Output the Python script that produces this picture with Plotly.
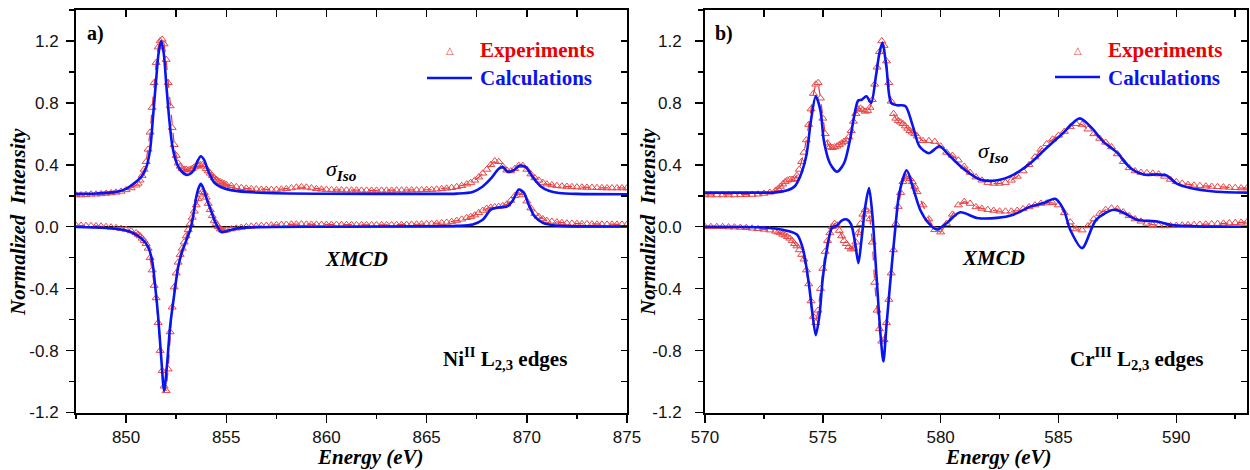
import numpy as np
import plotly.graph_objects as go


def seg(a, b, step):
    n = int(round((b - a) / step)) + 1
    return np.round(np.linspace(a, b, n), 3)


# ---------------- Panel a) Ni L2,3 edges ----------------
E_ni_exp = np.concatenate([seg(847.5, 850.5, 0.25), seg(850.6, 853.0, 0.1), seg(853.1, 855.0, 0.1),
                           seg(855.25, 867.0, 0.25), seg(867.2, 871.0, 0.2), seg(871.25, 875.0, 0.25)])

ni_iso_exp = [
    0.205, 0.205, 0.207, 0.21, 0.21, 0.212, 0.215, 0.218, 0.222, 0.228, 0.238, 0.25, 0.268,
    0.28, 0.30, 0.33, 0.37, 0.42, 0.50, 0.61, 0.77, 0.93, 1.06, 1.16, 1.20, 1.21, 1.18, 1.08, 0.93,
    0.78, 0.64, 0.53, 0.46, 0.41, 0.39, 0.375, 0.37, 0.37,
    0.365, 0.37, 0.375, 0.385, 0.39, 0.395, 0.40, 0.40, 0.39, 0.375, 0.36, 0.345, 0.33, 0.315, 0.305,
    0.295, 0.29, 0.283, 0.277, 0.272,
    0.265, 0.258, 0.252, 0.248, 0.245, 0.243, 0.241, 0.24, 0.24, 0.24, 0.242, 0.245, 0.25, 0.255, 0.257,
    0.255, 0.25, 0.245, 0.242, 0.24,
    0.238, 0.237, 0.237, 0.236, 0.236, 0.236, 0.235, 0.235, 0.235, 0.235, 0.235, 0.235, 0.235, 0.236,
    0.236, 0.236, 0.237, 0.237, 0.238, 0.239, 0.24, 0.242, 0.245, 0.248, 0.252, 0.258, 0.265, 0.275,
    0.285, 0.30, 0.32, 0.345, 0.37, 0.40, 0.425, 0.42, 0.39, 0.365, 0.36, 0.375, 0.395, 0.395, 0.37,
    0.34, 0.315, 0.30, 0.285, 0.275,
    0.27, 0.265, 0.262, 0.26, 0.258, 0.256, 0.255, 0.254, 0.253, 0.252, 0.251, 0.25, 0.25, 0.25, 0.25, 0.25,
]

ni_xmcd_exp = [
    0.008, 0.008, 0.007, 0.006, 0.005, 0.003, 0.0, -0.003, -0.007, -0.012, -0.018, -0.027, -0.04,
    -0.05, -0.06, -0.075, -0.09, -0.11, -0.14, -0.20, -0.28, -0.38, -0.46, -0.62, -0.80, -0.93, -1.03,
    -1.06, -0.92, -0.68, -0.52, -0.39, -0.30, -0.23, -0.18, -0.14, -0.10, -0.06,
    -0.02, 0.02, 0.06, 0.10, 0.14, 0.18, 0.21, 0.225, 0.22, 0.19, 0.15, 0.11, 0.07, 0.04, 0.02, 0.0,
    -0.015, -0.022, -0.025, -0.022,
    -0.015, -0.01, -0.005, 0.0, 0.003, 0.005, 0.007, 0.008, 0.01, 0.012, 0.014, 0.015, 0.016, 0.017,
    0.017, 0.016, 0.015, 0.015, 0.014, 0.014,
    0.014, 0.014, 0.013, 0.013, 0.013, 0.012, 0.012, 0.012, 0.012, 0.012, 0.012, 0.012, 0.012, 0.013,
    0.013, 0.014, 0.015, 0.016, 0.017, 0.018, 0.02, 0.022, 0.025, 0.028, 0.033, 0.04, 0.048, 0.058,
    0.065, 0.075, 0.09, 0.105, 0.118, 0.125, 0.128, 0.13, 0.135, 0.145, 0.17, 0.2, 0.22, 0.205, 0.165,
    0.12, 0.085, 0.065, 0.05, 0.04,
    0.034, 0.03, 0.026, 0.023, 0.021, 0.02, 0.019, 0.018, 0.017, 0.016, 0.016, 0.015, 0.015, 0.015, 0.015, 0.015,
]

E_ni_iso_calc = [847.5, 848.5, 849.5, 850.0, 850.5, 850.8, 851.0, 851.2, 851.35, 851.5, 851.62, 851.75,
                 851.88, 852.0, 852.15, 852.3, 852.5, 852.75, 853.05, 853.35, 853.55, 853.73, 853.9,
                 854.1, 854.4, 854.75, 855.3, 856.0, 857.0, 860.0, 865.0, 866.5, 867.3, 867.8, 868.2,
                 868.6, 868.8, 869.05, 869.35, 869.65, 869.95, 870.3, 870.7, 871.1, 871.6, 872.5, 875.0]
ni_iso_calc = [0.212, 0.215, 0.225, 0.245, 0.29, 0.33, 0.38, 0.50, 0.72, 0.95, 1.12, 1.20,
               1.12, 0.93, 0.70, 0.53, 0.42, 0.36, 0.335, 0.36, 0.42, 0.455, 0.43,
               0.36, 0.285, 0.255, 0.235, 0.225, 0.218, 0.213, 0.212, 0.214, 0.225, 0.26, 0.31,
               0.375, 0.385, 0.355, 0.365, 0.395, 0.385, 0.32, 0.26, 0.232, 0.218, 0.212, 0.21]

E_ni_xmcd_calc = [847.5, 849.0, 850.0, 850.4, 850.8, 851.1, 851.3, 851.45, 851.6, 851.75, 851.9, 852.05,
                  852.2, 852.4, 852.6, 852.8, 853.0, 853.2, 853.35, 853.5, 853.62, 853.73, 853.85, 854.05,
                  854.25, 854.45, 854.75, 855.1, 855.6, 856.5, 860.0, 865.0, 866.5, 867.3, 867.8, 868.2,
                  868.6, 869.0, 869.3, 869.6, 869.85, 870.1, 870.4, 870.8, 871.3, 872.0, 875.0]
ni_xmcd_calc = [-0.002, -0.008, -0.024, -0.045, -0.08, -0.13, -0.22, -0.38, -0.58, -0.84, -1.06, -0.88,
                -0.64, -0.44, -0.26, -0.16, -0.09, -0.02, 0.07, 0.19, 0.25, 0.277, 0.25, 0.17,
                0.10, 0.03, -0.034, -0.025, -0.01, -0.003, 0.0, 0.003, 0.006, 0.015, 0.045, 0.11,
                0.125, 0.13, 0.17, 0.24, 0.22, 0.14, 0.065, 0.025, 0.01, 0.004, 0.002]

# ---------------- Panel b) Cr L2,3 edges ----------------
E_cr_exp = np.concatenate([seg(570.0, 573.0, 0.25), seg(573.1, 579.0, 0.1), seg(579.25, 593.0, 0.25)])

cr_iso_exp = [
    0.205, 0.205, 0.205, 0.205, 0.205, 0.205, 0.206, 0.207, 0.208, 0.21, 0.215, 0.222, 0.235,
    0.245, 0.26, 0.275, 0.29, 0.30, 0.305, 0.305, 0.31, 0.33,
    0.37, 0.42, 0.48, 0.56, 0.66, 0.76, 0.86, 0.92, 0.93, 0.83,
    0.70, 0.60, 0.54, 0.515, 0.51, 0.515, 0.52, 0.53, 0.54, 0.55,
    0.56, 0.58, 0.62, 0.68, 0.73, 0.76, 0.765, 0.755, 0.745, 0.75,
    0.77, 0.82, 0.92, 1.03, 1.13, 1.20, 1.17, 1.07, 0.93, 0.81,
    0.73, 0.70, 0.685, 0.675, 0.665, 0.65, 0.635, 0.62, 0.61, 0.60,
    0.585,
    0.555, 0.555, 0.55, 0.52, 0.48, 0.46, 0.43, 0.39, 0.35, 0.32, 0.30, 0.285, 0.28, 0.28, 0.285,
    0.30, 0.325, 0.36, 0.40, 0.45, 0.50, 0.535, 0.565, 0.59, 0.615, 0.645, 0.665, 0.66, 0.63,
    0.60, 0.57, 0.545, 0.515, 0.47, 0.42, 0.38, 0.36, 0.35, 0.348, 0.345, 0.34, 0.325, 0.305,
    0.29, 0.28, 0.272, 0.268, 0.265, 0.262, 0.26, 0.258, 0.256, 0.254, 0.252, 0.25, 0.25,
]

cr_xmcd_exp = [
    0.0, 0.0, 0.0, 0.0, -0.002, -0.003, -0.005, -0.007, -0.01, -0.013, -0.017, -0.022, -0.03,
    -0.035, -0.04, -0.05, -0.055, -0.065, -0.075, -0.09, -0.11, -0.125,
    -0.15, -0.18, -0.21, -0.28, -0.37, -0.48, -0.58, -0.62, -0.54, -0.40,
    -0.27, -0.16, -0.09, -0.04, 0.0, 0.02, 0.01, -0.025, -0.06, -0.09,
    -0.11, -0.13, -0.145, -0.14, -0.10, -0.04, 0.02, 0.08, 0.11, 0.10,
    0.05, -0.10, -0.36, -0.54, -0.66, -0.74, -0.73, -0.62, -0.47, -0.30,
    -0.15, 0.02, 0.13, 0.22, 0.29, 0.32, 0.325, 0.31, 0.29, 0.26,
    0.225,
    0.14, 0.05, -0.02, -0.035, 0.02, 0.08, 0.14, 0.162, 0.15, 0.128, 0.118, 0.11, 0.105, 0.10, 0.10,
    0.10, 0.105, 0.115, 0.128, 0.14, 0.15, 0.153, 0.155, 0.14, 0.09, 0.03, -0.015, -0.022, 0.005,
    0.05, 0.085, 0.11, 0.12, 0.115, 0.095, 0.07, 0.05, 0.035, 0.022, 0.012, 0.006, 0.005, 0.006,
    0.008, 0.01, 0.012, 0.013, 0.015, 0.016, 0.018, 0.02, 0.022, 0.024, 0.026, 0.028, 0.03,
]

E_cr_iso_calc = [570.0, 572.0, 573.0, 573.5, 573.8, 574.05, 574.3, 574.5, 574.7, 574.9, 575.05, 575.3,
                 575.6, 575.9, 576.15, 576.35, 576.5, 576.65, 576.85, 577.05, 577.25, 577.4, 577.53,
                 577.7, 577.9, 578.15, 578.5, 578.8, 579.1, 579.5, 579.95, 580.4, 581.0, 581.7, 582.4,
                 583.1, 583.8, 584.5, 585.2, 585.9, 586.4, 586.9, 587.5, 588.05, 588.6, 589.2, 589.6,
                 590.0, 590.6, 591.6, 593.0]
cr_iso_calc = [0.22, 0.22, 0.222, 0.235, 0.26, 0.33, 0.46, 0.69, 0.843, 0.75, 0.55, 0.41,
               0.355, 0.41, 0.56, 0.73, 0.815, 0.82, 0.843, 0.80, 0.97, 1.12, 1.19,
               1.03, 0.80, 0.785, 0.78, 0.66, 0.52, 0.475, 0.52, 0.455, 0.37, 0.304, 0.30,
               0.337, 0.41, 0.51, 0.606, 0.70, 0.64, 0.55, 0.477, 0.38, 0.337, 0.337, 0.33,
               0.28, 0.25, 0.228, 0.22]

E_cr_xmcd_calc = [570.0, 572.5, 573.3, 573.9, 574.15, 574.4, 574.55, 574.7, 574.85, 575.0, 575.17,
                  575.38, 575.6, 575.8, 576.02, 576.2, 576.37, 576.51, 576.65, 576.8, 576.96, 577.1,
                  577.27, 577.45, 577.57, 577.7, 577.86, 578.05, 578.25, 578.56, 578.85, 579.13,
                  579.48, 579.84, 580.26, 580.83, 581.54, 582.39, 583.09, 583.8, 584.37, 584.86,
                  585.22, 585.5, 586.0, 586.6, 587.34, 587.76, 588.33, 589.18, 589.75, 590.9, 593.0]
cr_xmcd_calc = [0.0, -0.005, -0.02, -0.05, -0.14, -0.36, -0.55, -0.70, -0.58, -0.33, -0.15,
                -0.01, 0.008, 0.04, 0.047, 0.015, -0.105, -0.235, -0.07, 0.13, 0.25, 0.08,
                -0.30, -0.70, -0.87, -0.64, -0.36, -0.05, 0.22, 0.365, 0.24, 0.11,
                0.025, -0.018, 0.024, 0.093, 0.057, 0.057, 0.078, 0.13, 0.153, 0.18,
                0.11, -0.02, -0.138, 0.045, 0.11, 0.09, 0.045, 0.034, 0.013, 0.002, 0.0]

for name, e, v in [("ni iso", E_ni_exp, ni_iso_exp), ("ni xmcd", E_ni_exp, ni_xmcd_exp),
                   ("cr iso", E_cr_exp, cr_iso_exp), ("cr xmcd", E_cr_exp, cr_xmcd_exp),
                   ("ni iso c", E_ni_iso_calc, ni_iso_calc), ("ni xmcd c", E_ni_xmcd_calc, ni_xmcd_calc),
                   ("cr iso c", E_cr_iso_calc, cr_iso_calc), ("cr xmcd c", E_cr_xmcd_calc, cr_xmcd_calc)]:
    assert len(e) == len(v), (name, len(e), len(v))

x_ticks_ni = [850, 855, 860, 865, 870, 875]
x_ticks_cr = [570, 575, 580, 585, 590]
y_ticks = [-1.2, -0.8, -0.4, 0.0, 0.4, 0.8, 1.2]
y_tick_text = ["-1.2", "-0.8", "-0.4", "0.0", "0.4", "0.8", "1.2"]

# ---------------- Figure ----------------
W, H = 1250, 470
RED_M = "rgb(232,70,70)"
RED_T = "rgb(236,0,0)"
BLUE = "rgb(10,20,240)"
SERIF = "Liberation Serif, Times New Roman, serif"
SANS = "Liberation Sans, Arial, sans-serif"


def px(x):
    return x / W


def py(y):
    return 1 - y / H


fig = go.Figure()


def add_exp(e, v, xa, ya):
    fig.add_trace(go.Scatter(
        x=e, y=v, xaxis=xa, yaxis=ya, mode="lines+markers",
        line=dict(color="rgba(230,20,20,0.85)", width=1.2, dash="dash"),
        marker=dict(symbol="triangle-up-open", size=7, color=RED_M, line=dict(width=1.0)),
        showlegend=False, hoverinfo="skip"))


def add_calc(e, v, xa, ya):
    fig.add_trace(go.Scatter(
        x=e, y=v, xaxis=xa, yaxis=ya, mode="lines",
        line=dict(color=BLUE, width=2.6, shape="spline", smoothing=0.8),
        showlegend=False, hoverinfo="skip"))


add_exp(E_ni_exp, ni_iso_exp, "x", "y")
add_exp(E_ni_exp, ni_xmcd_exp, "x", "y")
add_calc(E_ni_iso_calc, ni_iso_calc, "x", "y")
add_calc(E_ni_xmcd_calc, ni_xmcd_calc, "x", "y")
add_exp(E_cr_exp, cr_iso_exp, "x2", "y2")
add_exp(E_cr_exp, cr_xmcd_exp, "x2", "y2")
add_calc(E_cr_iso_calc, cr_iso_calc, "x2", "y2")
add_calc(E_cr_xmcd_calc, cr_xmcd_calc, "x2", "y2")

# dummy traces to activate mirror axes (top / right, ticks inside)
for xa, ya in [("x3", "y"), ("x", "y3"), ("x4", "y2"), ("x2", "y4")]:
    fig.add_trace(go.Scatter(x=[None], y=[None], xaxis=xa, yaxis=ya, showlegend=False, hoverinfo="skip"))

ydom = [py(412.5), py(10)]
tickfont = dict(family=SANS, size=17, color="#111")
common_line = dict(showline=True, linecolor="black", linewidth=2, showgrid=False, zeroline=False,
                   automargin=False)


def main_x(rng, tick0, ticks, dom, anchor):
    return dict(domain=dom, anchor=anchor, range=rng, tickmode="array", tickvals=ticks,
                ticks="outside", ticklen=8, tickwidth=1.5, tickcolor="black", tickfont=tickfont,
                ticklabelstandoff=0,
                minor=dict(tick0=tick0, dtick=2.5, ticks="outside", ticklen=4, tickwidth=1.5,
                           tickcolor="black", showgrid=False),
                **common_line)


def main_y(anchor, standoff):
    return dict(domain=ydom, anchor=anchor, range=[-1.2, 1.4], tickmode="array", tickvals=y_ticks,
                ticktext=y_tick_text, ticks="outside", ticklen=8, tickwidth=1.5, tickcolor="black",
                tickfont=tickfont, ticklabelstandoff=standoff,
                minor=dict(tick0=0, dtick=0.2, ticks="outside", ticklen=5, tickwidth=1.5,
                           tickcolor="black", showgrid=False),
                **common_line)


def mirror_x(over, anchor, rng, tick0):
    return dict(overlaying=over, anchor=anchor, side="top", range=rng, tick0=tick0, dtick=2.5,
                ticks="inside", ticklen=7, tickwidth=1.5, tickcolor="black", showticklabels=False,
                **common_line)


def mirror_y(over, anchor):
    return dict(overlaying=over, anchor=anchor, side="right", range=[-1.2, 1.4], tick0=0, dtick=0.2,
                ticks="inside", ticklen=6, tickwidth=1.5, tickcolor="black", showticklabels=False,
                **common_line)


fig.update_layout(
    width=W, height=H, autosize=False,
    margin=dict(l=0, r=0, t=0, b=0, autoexpand=False),
    paper_bgcolor="white", plot_bgcolor="white",
    showlegend=False,
    xaxis=main_x([847.5, 875], 850, x_ticks_ni, [px(76), px(627)], "y"),
    yaxis=main_y("x", 4),
    xaxis2=main_x([570, 593], 570, x_ticks_cr, [px(705), px(1247)], "y2"),
    yaxis2=main_y("x2", 10),
    xaxis3=mirror_x("x", "y", [847.5, 875], 850),
    yaxis3=mirror_y("y", "x"),
    xaxis4=mirror_x("x2", "y2", [570, 593], 570),
    yaxis4=mirror_y("y2", "x2"),
)

shapes = []
for xr, yr in [("x domain", "y"), ("x2 domain", "y2")]:
    shapes.append(dict(type="line", xref=xr, yref=yr, x0=0, x1=1, y0=0, y1=0,
                       line=dict(color="black", width=1.6), layer="below"))
# legend line samples
for x0, x1, yy in [(427, 472, 78), (1055, 1100, 77)]:
    shapes.append(dict(type="line", xref="paper", yref="paper", x0=px(x0), x1=px(x1), y0=py(yy), y1=py(yy),
                       line=dict(color=BLUE, width=2.6)))
fig.update_layout(shapes=shapes)

ann = []


def note(text, x, y, size, color="black", family=SERIF, xanchor="center", angle=0):
    ann.append(dict(text=text, x=px(x), y=py(y), xref="paper", yref="paper", showarrow=False,
                    xanchor=xanchor, yanchor="middle", textangle=angle,
                    font=dict(family=family, size=size, color=color)))


# panel labels
note("<b>a)</b>", 95, 33, 20)
note("<b>b)</b>", 724, 33, 20)
# legends
for tx, lx, ly in [(450, 478, 50), (1078, 1106, 50)]:
    note("△", tx, ly, 10, color=RED_M, family="DejaVu Sans")
    note("<b>Experiments</b>", lx, ly, 21, color=RED_T, xanchor="left")
    note("<b>Calculations</b>", lx, ly + 28, 21, color=BLUE, xanchor="left")
# curve labels
note("<i>σ</i><sub><b><i>Iso</i></b></sub>", 341, 170, 22)
note("<i>σ</i><sub><b><i>Iso</i></b></sub>", 993, 152, 22)
note("<b><i>XMCD</i></b>", 356, 259, 21)
note("<b><i>XMCD</i></b>", 993, 258, 21)
note("<b>Ni<sup>II</sup> L<sub>2,3</sub> edges</b>", 505, 358, 21)
note("<b>Cr<sup>III</sup> L<sub>2,3</sub> edges</b>", 1137, 358, 21)
# axis titles
note("<b><i>Normalized  Intensity</i></b>", 18, 222, 21, angle=-90)
note("<b><i>Normalized  Intensity</i></b>", 648, 222, 21, angle=-90)
note("<b><i>Energy (eV)</i></b>", 370, 457, 21)
note("<b><i>Energy (eV)</i></b>", 998, 457, 21)
fig.update_layout(annotations=ann)

fig.write_html("out.html", config={"displayModeBar": False, "staticPlot": True},
               post_script="document.body.style.margin='0px';document.body.style.overflow='hidden';")
